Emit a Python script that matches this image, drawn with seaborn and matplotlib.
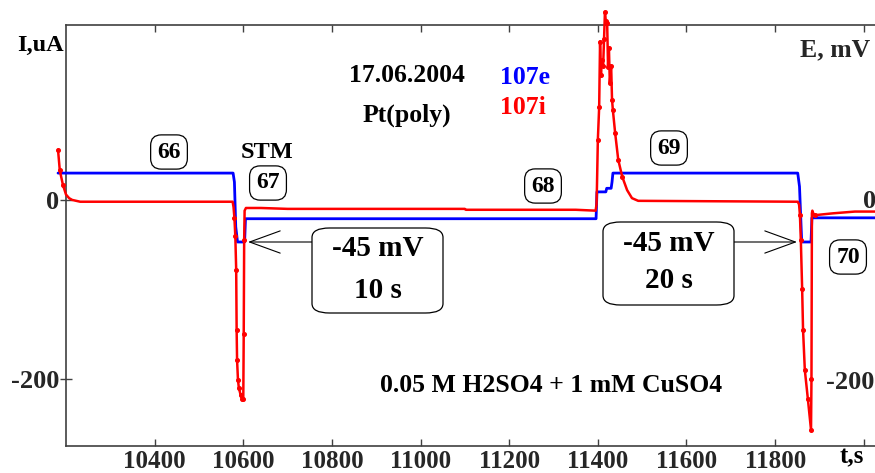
import numpy as np
import pandas as pd
import matplotlib
matplotlib.use("Agg")
import matplotlib.pyplot as plt
from matplotlib.patches import FancyBboxPatch
import seaborn as sns

# ---- data ----
# electrode potential E, mV (blue, 107e)
t_e = [10182, 10577, 10580, 10583, 10587, 10603, 10605, 11396, 11398, 11418, 11420,
       11430, 11432, 11434, 11851, 11855, 11860, 11881, 11883, 12030]
e_mv = [30, 30, 20, -30, -47, -47, -21, -21, 9, 9, 13, 13, 20, 30, 30, 15, -47, -47, -20, -20]

# current I, uA (red, 107i)
t_i = [10182, 10186, 10193, 10200, 10207, 10214, 10232, 10576, 10578, 10580, 10582,
       10584, 10585, 10586, 10588, 10590, 10594, 10597, 10600, 10601, 10602, 10603,
       10606, 10640, 10700, 11100, 11102, 11350, 11395, 11397, 11398, 11400, 11403,
       11405, 11407, 11409, 11412, 11414, 11416, 11418, 11421, 11423, 11425, 11427,
       11430, 11432, 11434, 11439, 11446, 11455, 11466, 11477, 11491, 11851, 11854,
       11856, 11858, 11861, 11863, 11867, 11874, 11881, 11882, 11883, 11884, 11886,
       11890, 11930, 11980, 12030]
i_ua = [56, 33, 17, 6, 2, 0, -2, -2, -8, -20, -40, -78, -145, -179, -201, -210, -218,
        -223, -223, -150, -45, -12, -9, -9, -10, -10, -11, -11, -12, -5, 15, 67, 104,
        177, 140, 156, 150, 180, 210, 200, 198, 149, 170, 131, 150, 112, 100, 75, 45,
        26, 11, 2, -1, -2, -5, -17, -45, -100, -145, -190, -223, -257, -200, -15, -12,
        -15, -17, -15, -13, -13]

xticks = [10400, 10600, 10800, 11000, 11200, 11400, 11600, 11800, 12000]
xtick_labels = ["10400", "10600", "10800", "11000", "11200", "11400", "11600", "11800", ""]
yticks = [-200, 0]

# ---- style ----
sns.set_style("white")
plt.rcParams["font.family"] = ["Liberation Serif", "DejaVu Serif"]
plt.rcParams["font.weight"] = "bold"

fig = plt.figure(figsize=(8.75, 4.73), dpi=100)
ax = fig.add_axes([66 / 875, 1 - 446 / 473, 1 - 66 / 875, (446 - 25) / 473])

x0, x1 = 10200, 10200 + (875 - 66) * 2.2563
ax.set_xlim(x0, x1)
ax.set_ylim(-275, 195.5)

df_e = pd.DataFrame({"t": t_e, "E": e_mv})
df_i = pd.DataFrame({"t": t_i, "I": i_ua})

sns.lineplot(data=df_e, x="t", y="E", ax=ax, color="#0000ff", lw=2.0,
             sort=False, estimator=None, clip_on=False, zorder=3)
sns.lineplot(data=df_i, x="t", y="I", ax=ax, color="#ff0000", lw=1.8,
             sort=False, estimator=None, clip_on=False, zorder=4)
# sample dots on the fast transients
spikes = df_i[(df_i["I"].abs() > 15)]
ax.plot(spikes["t"], spikes["I"], ls="none", marker="o", ms=2.6, color="#ff0000",
        clip_on=False, zorder=4)

ax.set_xlabel("")
ax.set_ylabel("")
ax.set_xticks(xticks)
ax.set_xticklabels(xtick_labels)
ax.set_yticks(yticks)
ax.set_yticklabels([str(v) for v in yticks])
ax.tick_params(axis="x", direction="in", top=True, bottom=True, length=5,
               width=1, color="#404040", labelsize=18, pad=3)
ax.tick_params(axis="y", direction="inout", left=True, length=8, width=1,
               color="#404040", labelsize=19, pad=1)
for lab in ax.get_xticklabels() + ax.get_yticklabels():
    lab.set_fontweight("bold")
for s in ["left", "top", "bottom"]:
    ax.spines[s].set_color("#404040")
    ax.spines[s].set_linewidth(1.2)
ax.spines["right"].set_visible(False)

T = fig.transFigure


def fx(px):
    return px / 875


def fy(py):
    return 1 - py / 473


txt = dict(transform=T, fontweight="bold", color="black", ha="center", va="center")
fig.text(fx(40), fy(45), "I,uA", fontsize=17.5, **txt)
fig.text(fx(800), fy(50), "E, mV", fontsize=18.5, transform=T, fontweight="bold",
         ha="left", va="center")
fig.text(fx(863), fy(202), "0", fontsize=19, transform=T, fontweight="bold",
         ha="left", va="center")
fig.text(fx(826), fy(382), "-200", fontsize=19, transform=T, fontweight="bold",
         ha="left", va="center")
fig.text(fx(852), fy(457), "t,s", fontsize=18, **txt)

fig.text(fx(407), fy(75), "17.06.2004", fontsize=18.5, **txt)
fig.text(fx(407), fy(115), "Pt(poly)", fontsize=18.5, **txt)
fig.text(fx(525), fy(78), "107e", fontsize=18.5, transform=T, fontweight="bold",
         color="#0000ff", ha="center", va="center")
fig.text(fx(523), fy(108), "107i", fontsize=18.5, transform=T, fontweight="bold",
         color="#ff0000", ha="center", va="center")
fig.text(fx(267), fy(152), "STM", fontsize=17.5, **txt)
fig.text(fx(551), fy(385), "0.05 M H2SO4 + 1 mM CuSO4", fontsize=18.5, **txt)

nb = dict(boxstyle="round,pad=0.28,rounding_size=0.45", fc="white", ec="black", lw=0.9)
for lbl, px, py in [("66", 169, 152), ("67", 268, 183), ("68", 543, 186),
                    ("69", 669, 148), ("70", 848, 257)]:
    fig.text(fx(px), fy(py), lbl, fontsize=17, bbox=nb, **txt)

# big rounded boxes
for (bx0, by0, bx1, by1, l1, l2, ly1, ly2) in [
        (312, 228, 443, 313, "-45 mV", "10 s", 248, 290),
        (603, 222, 734, 305, "-45 mV", "20 s", 243, 281)]:
    p = FancyBboxPatch((fx(bx0), fy(by1)), fx(bx1) - fx(bx0), fy(by0) - fy(by1),
                       boxstyle="round,pad=0,rounding_size=0.02", transform=T,
                       fc="white", ec="black", lw=0.9, zorder=5)
    fig.patches.append(p)
    cx = (bx0 + bx1) / 2
    fig.text(fx(cx), fy(ly1), l1, fontsize=21, zorder=6, **txt)
    fig.text(fx(cx), fy(ly2), l2, fontsize=21, zorder=6, **txt)

ap = dict(arrowstyle="->,head_length=1.1,head_width=0.4", color="black", lw=0.8,
          mutation_scale=20, shrinkA=0, shrinkB=0)
ax.annotate("", xy=(fx(248), fy(242)), xycoords=T, xytext=(fx(312), fy(242)),
            textcoords=T, arrowprops=ap)
ax.annotate("", xy=(fx(797), fy(242)), xycoords=T, xytext=(fx(734), fy(242)),
            textcoords=T, arrowprops=ap)

fig.savefig("out.png", dpi=100)
